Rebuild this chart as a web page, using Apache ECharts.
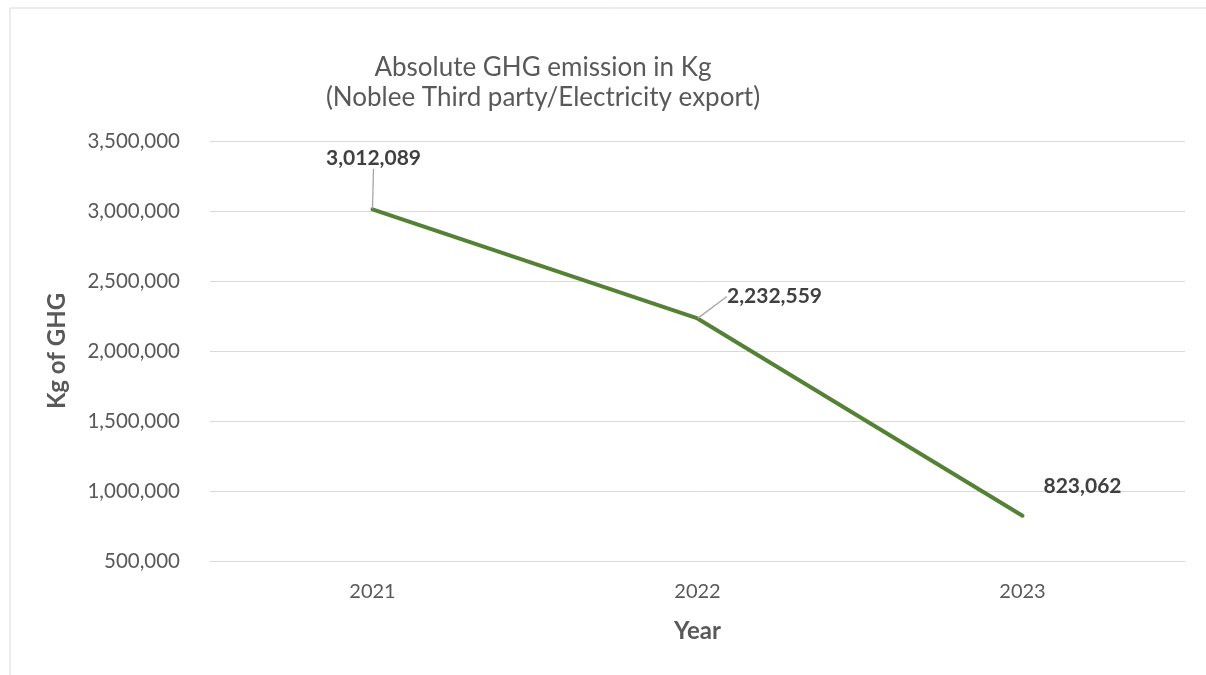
<!DOCTYPE html>
<html>
<head>
<meta charset="utf-8">
<script src="https://cdn.jsdelivr.net/npm/echarts@6/dist/echarts.min.js"></script>
<style>
  html, body { margin: 0; padding: 0; background: #fff; }
  #chart { width: 1206px; height: 675px; }
</style>
</head>
<body>
<div id="chart"></div>
<script>
const years = ['2021', '2022', '2023']
const emissions = [3012089, 2232559, 823062]
const yTicks = { min: 500000, max: 3500000, interval: 500000 }

// how far each data label is pushed from its default spot (by eye)
const labelShift = [[1, -36], [77, -7], [60, -15]]
const showLeader = [true, true, false]

const textColor = '#595959'
const fontFamily = 'Lato, "Open Sans", sans-serif'

const myChart = echarts.init(document.getElementById('chart'))
const option = {
  backgroundColor: '#fff',
  textStyle: { fontFamily: fontFamily },
  title: {
    text: 'Absolute GHG emission in Kg\n(Noblee Third party/Electricity export)',
    left: 538,
    textAlign: 'center',
    top: 48,
    textStyle: {
      fontSize: 26,
      fontWeight: 'normal',
      color: textColor,
      lineHeight: 30,
      fontFamily: fontFamily
    }
  },
  graphic: [
    {
      type: 'rect',
      shape: { x: 10, y: 8, width: 1300, height: 800 },
      style: { fill: 'none', stroke: '#d9d9d9', lineWidth: 1 },
      silent: true,
      z: -1
    }
  ],
  grid: {
    left: 210,
    right: 21,
    top: 141,
    bottom: 114
  },
  xAxis: {
    type: 'category',
    data: years,
    boundaryGap: true,
    name: 'Year',
    nameLocation: 'middle',
    nameGap: 58,
    nameTextStyle: { fontSize: 24, fontWeight: 'bold', color: textColor },
    axisLine: { lineStyle: { color: '#d9d9d9' } },
    axisTick: { show: false },
    axisLabel: { fontSize: 20, color: textColor, margin: 21 }
  },
  yAxis: {
    type: 'value',
    min: yTicks.min,
    max: yTicks.max,
    interval: yTicks.interval,
    name: 'Kg of GHG',
    nameLocation: 'middle',
    nameGap: 141,
    nameTextStyle: { fontSize: 24, fontWeight: 'bold', color: textColor },
    axisLine: { show: false },
    axisTick: { show: false },
    axisLabel: {
      fontSize: 20.5,
      color: textColor,
      margin: 30,
      formatter: v => v.toLocaleString('en-US')
    },
    splitLine: { lineStyle: { color: '#d9d9d9', width: 1 } }
  },
  series: [
    {
      type: 'line',
      data: emissions.map((v, i) => ({
        value: v,
        labelLine: { show: showLeader[i] }
      })),
      symbol: 'circle',
      symbolSize: 1,
      showSymbol: true,
      lineStyle: { color: '#548235', width: 4, cap: 'round' },
      itemStyle: { color: '#548235' },
      label: {
        show: true,
        position: 'top',
        distance: 4,
        fontSize: 21,
        fontWeight: 'bold',
        color: '#404040',
        formatter: p => p.value.toLocaleString('en-US')
      },
      labelLayout: params => ({
        dx: labelShift[params.dataIndex][0],
        dy: labelShift[params.dataIndex][1]
      }),
      labelLine: {
        show: true,
        smooth: false,
        lineStyle: { color: '#a6a6a6', width: 1.3 }
      }
    }
  ]
}
myChart.setOption(option)
</script>
</body>
</html>
